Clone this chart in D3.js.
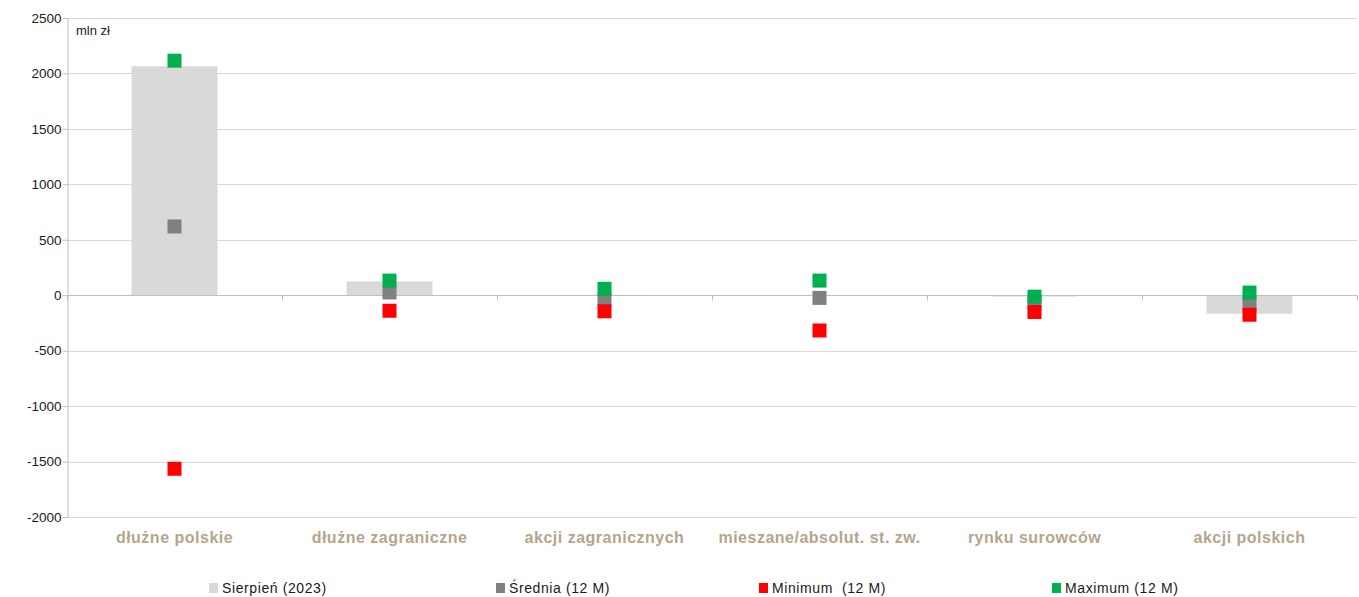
<!DOCTYPE html>
<html>
<head>
<meta charset="utf-8">
<script src="https://cdn.jsdelivr.net/npm/d3@7"></script>
<style>
  html, body { margin: 0; padding: 0; background: #fff; }
  svg { display: block; }
  text { font-family: "Liberation Sans", Arial, sans-serif; }
</style>
</head>
<body>
<svg id="chart" width="1359" height="597"></svg>
<script>
// Fund categories (net flows, mln zł)
const categories = [
  "dłużne polskie",
  "dłużne zagraniczne",
  "akcji zagranicznych",
  "mieszane/absolut. st. zw.",
  "rynku surowców",
  "akcji polskich"
];
// August 2023 net flows (bars)
const sierpien = [2065, 125, 3, 2, -12, -167];
// 12-month average, minimum and maximum (markers)
const srednia  = [620, 25, -40, -24, -65, -75];
const minimum  = [-1565, -140, -145, -318, -151, -176];
const maximum  = [2115, 132, 58, 132, -13, 24];

const yTicks = [-2000, -1500, -1000, -500, 0, 500, 1000, 1500, 2000, 2500];
const unitLabel = "mln zł";
const legendLabels = ["Sierpień (2023)", "Średnia (12 M)", "Minimum  (12 M)", "Maximum (12 M)"];

const colors = {
  bar: "#d9d9d9",
  avg: "#808080",
  min: "#ff0000",
  max: "#00b050",
  grid: "#d9d9d9",
  axis: "#bfbfbf",
  cat: "#b5a58d"
};

const svg = d3.select("#chart");
const plotLeft = 67, plotRight = 1357, plotTop = 18, plotBottom = 517;

const x = d3.scaleBand().domain(categories).range([plotLeft, plotRight]).paddingInner(0).paddingOuter(0);
const y = d3.scaleLinear().domain([-2000, 2500]).range([plotBottom, plotTop]);

// horizontal gridlines
svg.append("g")
  .selectAll("line")
  .data(yTicks.filter(d => d !== 0))
  .join("line")
  .attr("x1", plotLeft).attr("x2", plotRight)
  .attr("y1", d => Math.round(y(d)) + 0.5).attr("y2", d => Math.round(y(d)) + 0.5)
  .attr("stroke", colors.grid).attr("stroke-width", 1);

// value axis (plain hyphen for negatives)
const yAxis = svg.append("g")
  .attr("transform", `translate(${plotLeft + 0.5},0)`)
  .call(d3.axisLeft(y).tickValues(yTicks).tickSize(5).tickSizeOuter(0).tickFormat(d => String(d)));
yAxis.select(".domain").attr("stroke", colors.axis);
yAxis.selectAll(".tick line").attr("stroke", colors.axis);
yAxis.selectAll(".tick text")
  .attr("x", -6)
  .attr("fill", "#1a1a1a")
  .style("font-size", "13.5px")
  .style("font-family", "'Liberation Sans', Arial, sans-serif");

// bars
const barW = x.bandwidth() * 0.4;
svg.append("g")
  .selectAll("rect")
  .data(categories)
  .join("rect")
  .attr("x", (d) => x(d) + (x.bandwidth() - barW) / 2)
  .attr("width", barW)
  .attr("y", (d, i) => y(Math.max(0, sierpien[i])))
  .attr("height", (d, i) => Math.max(1, Math.abs(y(sierpien[i]) - y(0))))
  .attr("fill", colors.bar);

// category axis along zero
const xAxis = svg.append("g")
  .attr("transform", `translate(0,${Math.round(y(0)) + 0.5})`);
xAxis.append("line")
  .attr("x1", plotLeft).attr("x2", plotRight)
  .attr("stroke", colors.axis);
const bounds = categories.map(c => x(c)).concat([plotRight]);
xAxis.selectAll("line.tk")
  .data(bounds)
  .join("line")
  .attr("class", "tk")
  .attr("x1", d => Math.round(d) + 0.5).attr("x2", d => Math.round(d) + 0.5)
  .attr("y1", 0).attr("y2", 5)
  .attr("stroke", colors.axis);

// category labels at bottom
svg.append("g")
  .selectAll("text")
  .data(categories)
  .join("text")
  .attr("x", d => x(d) + x.bandwidth() / 2)
  .attr("y", 543)
  .attr("text-anchor", "middle")
  .attr("fill", colors.cat)
  .style("font-size", "16px")
  .style("font-weight", "bold")
  .style("letter-spacing", "0.5px")
  .text(d => d);

// markers: average, minimum, maximum
const mSize = 14;
[[srednia, colors.avg], [minimum, colors.min], [maximum, colors.max]].forEach(([vals, col]) => {
  svg.append("g")
    .selectAll("rect")
    .data(categories)
    .join("rect")
    .attr("x", d => x(d) + x.bandwidth() / 2 - mSize / 2)
    .attr("y", (d, i) => y(vals[i]) - mSize / 2)
    .attr("width", mSize).attr("height", mSize)
    .attr("fill", col);
});

// unit label
svg.append("text")
  .attr("x", 76).attr("y", 35)
  .attr("fill", "#1a1a1a")
  .style("font-size", "13px")
  .text(unitLabel);

// legend
const legendX = [209, 496, 759, 1052];
const legendColors = [colors.bar, colors.avg, colors.min, colors.max];
const lg = svg.append("g").attr("transform", "translate(0,588)");
legendLabels.forEach((lab, i) => {
  lg.append("rect")
    .attr("x", legendX[i]).attr("y", -5)
    .attr("width", 9).attr("height", 10)
    .attr("fill", legendColors[i]);
  lg.append("text")
    .attr("x", legendX[i] + 13).attr("y", 5)
    .attr("fill", "#1a1a1a")
    .style("font-size", "14px")
    .style("letter-spacing", "0.6px")
    .style("white-space", "pre")
    .text(lab);
});
</script>
</body>
</html>
